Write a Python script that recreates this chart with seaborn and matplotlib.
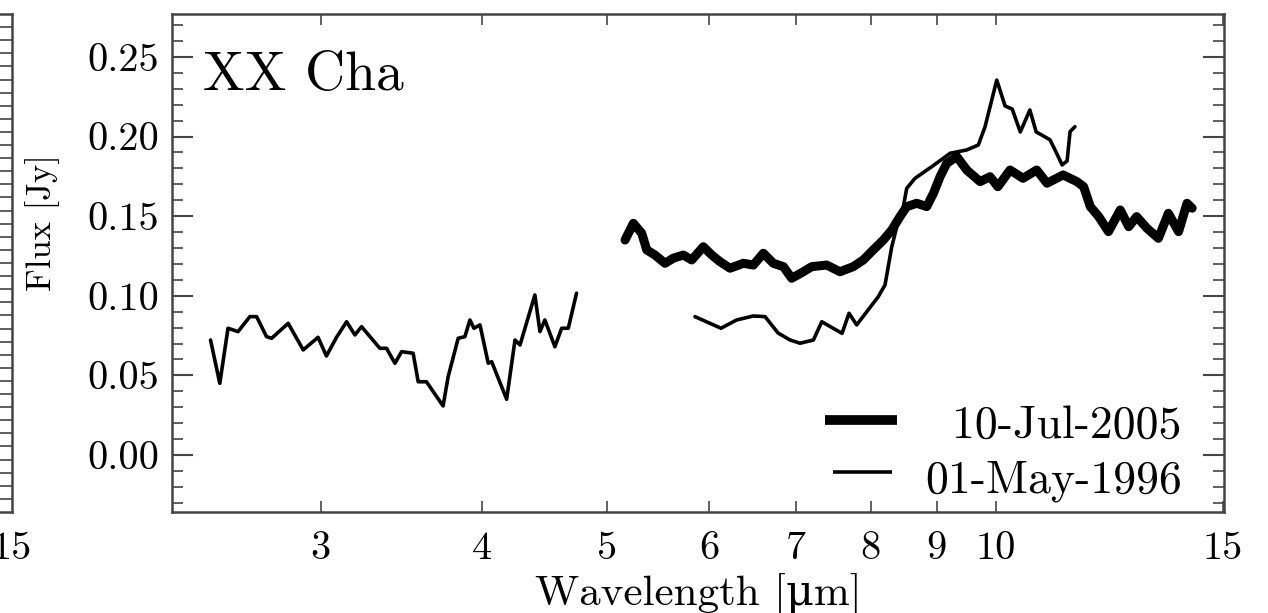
import matplotlib
matplotlib.use("Agg")
import numpy as np
import pandas as pd
import seaborn as sns
import matplotlib.pyplot as plt
from matplotlib.ticker import NullLocator, MultipleLocator
from matplotlib.lines import Line2D

# ---------------- data ----------------
thin1_wl = [2.464, 2.505, 2.542, 2.588, 2.643, 2.675, 2.723, 2.748, 2.830, 2.907,
            2.985, 3.030, 3.085, 3.141, 3.188, 3.226, 3.333, 3.373, 3.424, 3.465,
            3.537, 3.569, 3.622, 3.731, 3.765, 3.833, 3.879, 3.914, 3.942, 3.985,
            4.044, 4.069, 4.179, 4.242, 4.280, 4.395, 4.435, 4.474, 4.555, 4.610,
            4.665, 4.734]
thin1_flux = [0.0722, 0.0450, 0.0796, 0.0775, 0.0869, 0.0869, 0.0743, 0.0733, 0.0827, 0.0660,
              0.0739, 0.0622, 0.0739, 0.0837, 0.0754, 0.0806, 0.0670, 0.0670, 0.0576, 0.0649,
              0.0639, 0.0460, 0.0460, 0.0308, 0.0492, 0.0733, 0.0743, 0.0848, 0.0796, 0.0817,
              0.0576, 0.0586, 0.0350, 0.0722, 0.0691, 0.1005, 0.0775, 0.0848, 0.0680, 0.0796,
              0.0796, 0.1016]

thin2_wl = [5.848, 6.126, 6.299, 6.490, 6.627, 6.783, 6.930, 7.054, 7.224, 7.333,
            7.603, 7.698, 7.804, 8.107, 8.209, 8.308, 8.383, 8.482, 8.533, 8.661,
            8.923, 9.220, 9.498, 9.696, 9.813, 10.02, 10.17, 10.30, 10.45, 10.63,
            10.75, 10.89, 11.02, 11.15, 11.26, 11.36, 11.42, 11.52]
thin2_flux = [0.0869, 0.0796, 0.0848, 0.0873, 0.0869, 0.0766, 0.0722, 0.0702, 0.0722, 0.0837,
              0.0764, 0.0890, 0.0817, 0.0992, 0.1068, 0.1308, 0.1434, 0.1560, 0.1675, 0.1738,
              0.1811, 0.1895, 0.1916, 0.1947, 0.2062, 0.2355, 0.2192, 0.2173, 0.2029, 0.2167,
              0.2029, 0.2004, 0.1979, 0.1895, 0.1822, 0.1847, 0.2031, 0.2062]

thick_wl = [5.162, 5.239, 5.318, 5.366, 5.445, 5.544, 5.626, 5.728, 5.814, 5.936,
            6.026, 6.115, 6.226, 6.376, 6.490, 6.607, 6.726, 6.848, 6.950, 7.096,
            7.203, 7.398, 7.575, 7.757, 7.897, 8.038, 8.184, 8.308, 8.431, 8.533,
            8.687, 8.843, 8.950, 9.056, 9.165, 9.331, 9.498, 9.727, 9.901, 10.04,
            10.26, 10.50, 10.76, 10.96, 11.28, 11.56, 11.70, 11.84, 12.02, 12.23,
            12.49, 12.68, 12.86, 13.10, 13.37, 13.61, 13.86, 14.07, 14.20]
thick_flux = [0.1350, 0.1455, 0.1393, 0.1288, 0.1256, 0.1204, 0.1236, 0.1256, 0.1225, 0.1308,
              0.1256, 0.1214, 0.1173, 0.1204, 0.1193, 0.1267, 0.1204, 0.1183, 0.1110, 0.1151,
              0.1183, 0.1193, 0.1151, 0.1183, 0.1225, 0.1288, 0.1350, 0.1413, 0.1497, 0.1560,
              0.1581, 0.1560, 0.1644, 0.1748, 0.1832, 0.1874, 0.1790, 0.1717, 0.1748, 0.1685,
              0.1790, 0.1738, 0.1790, 0.1707, 0.1759, 0.1717, 0.1685, 0.1560, 0.1497, 0.1403,
              0.1539, 0.1434, 0.1497, 0.1424, 0.1361, 0.1518, 0.1403, 0.1581, 0.1550]

xtick_vals = [3, 4, 5, 6, 7, 8, 9, 10, 15]
xtick_labels = ["3", "4", "5", "6", "7", "8", "9", "10", "15"]
ytick_vals = [0.00, 0.05, 0.10, 0.15, 0.20, 0.25]
ytick_labels = ["0.00", "0.05", "0.10", "0.15", "0.20", "0.25"]
legend_labels = ["10-Jul-2005", "01-May-1996"]
object_name = "XX Cha"

# ---------------- style ----------------
sns.set_theme(style="white")
plt.rcParams["font.family"] = ["cmr10", "DejaVu Serif"]
plt.rcParams["axes.formatter.use_mathtext"] = True
plt.rcParams["axes.unicode_minus"] = False
plt.rcParams["text.color"] = "black"
plt.rcParams["axes.labelcolor"] = "black"
plt.rcParams["xtick.labelcolor"] = "black"
plt.rcParams["ytick.labelcolor"] = "black"
spine_col = "#444444"

fig = plt.figure(figsize=(12.68, 6.13), dpi=100)
fig.patch.set_facecolor("white")

# partial neighbouring panel on the far left (cut off)
ax0 = fig.add_axes([-0.2, 0.1648, 0.2095, 0.8124])
ax0.set_xscale("log")
ax0.set_xlim(2.3, 15.03)
ax0.set_ylim(0, 38)
ax0.set_xticks([15], labels=["15"])
ax0.xaxis.set_minor_locator(NullLocator())
ax0.set_yticks(list(range(1, 38)))
ax0.yaxis.tick_right()
ax0.tick_params(axis="y", direction="in", length=9, width=1.2, color=spine_col,
                labelright=False, right=True)
ax0.tick_params(axis="x", direction="in", length=0, labelsize=29, pad=14)
for s in ax0.spines.values():
    s.set_color(spine_col)
    s.set_linewidth(1.8)

# main panel
ax = fig.add_axes([0.1356, 0.1648, 0.8297, 0.8124])
df_thin1 = pd.DataFrame({"wavelength": thin1_wl, "flux": thin1_flux})
df_thin2 = pd.DataFrame({"wavelength": thin2_wl, "flux": thin2_flux})
df_thick = pd.DataFrame({"wavelength": thick_wl, "flux": thick_flux})

sns.lineplot(data=df_thick, x="wavelength", y="flux", ax=ax, color="black",
             lw=6.5, estimator=None, sort=False, legend=False)
sns.lineplot(data=df_thin1, x="wavelength", y="flux", ax=ax, color="black",
             lw=2.6, estimator=None, sort=False, legend=False)
sns.lineplot(data=df_thin2, x="wavelength", y="flux", ax=ax, color="black",
             lw=2.6, estimator=None, sort=False, legend=False)

ax.set_xscale("log")
ax.set_xlim(2.3, 15.03)
ax.set_ylim(-0.0358, 0.277)
ax.set_xticks(xtick_vals, labels=xtick_labels)
ax.xaxis.set_minor_locator(NullLocator())
ax.set_yticks(ytick_vals, labels=ytick_labels)
ax.yaxis.set_minor_locator(MultipleLocator(0.01))

ax.tick_params(axis="y", which="major", direction="in", length=15, width=1.5,
               left=True, right=True, labelsize=29, pad=9, color=spine_col)
ax.tick_params(axis="y", which="minor", direction="in", length=8, width=1.2,
               left=True, right=True, color=spine_col)
ax.tick_params(axis="x", which="major", direction="in", length=8, width=1.2,
               bottom=True, top=True, labelsize=29, pad=14, color=spine_col)
for s in ax.spines.values():
    s.set_color(spine_col)
    s.set_linewidth(1.8)

ax.set_xlabel("Wavelength [μm]", fontsize=31)
ax.xaxis.set_label_coords(0.5, -0.122)
ax.set_ylabel("Flux [Jy]", fontsize=25)
ax.yaxis.set_label_coords(-0.1065, 0.582)

ax.text(0.0295, 0.847, object_name, transform=ax.transAxes, fontsize=40,
        va="baseline", ha="left")

# legend (lines + right-aligned labels)
ax.add_line(Line2D([0.621, 0.689], [0.185, 0.185], transform=ax.transAxes,
                   lw=7, color="black", solid_capstyle="butt"))
ax.add_line(Line2D([0.628, 0.684], [0.080, 0.080], transform=ax.transAxes,
                   lw=2.6, color="black", solid_capstyle="butt"))
ax.text(0.960, 0.1486, legend_labels[0], transform=ax.transAxes, fontsize=33,
        ha="right", va="baseline")
ax.text(0.960, 0.040, legend_labels[1], transform=ax.transAxes, fontsize=33,
        ha="right", va="baseline")

fig.savefig("out.png", dpi=100, facecolor="white")
